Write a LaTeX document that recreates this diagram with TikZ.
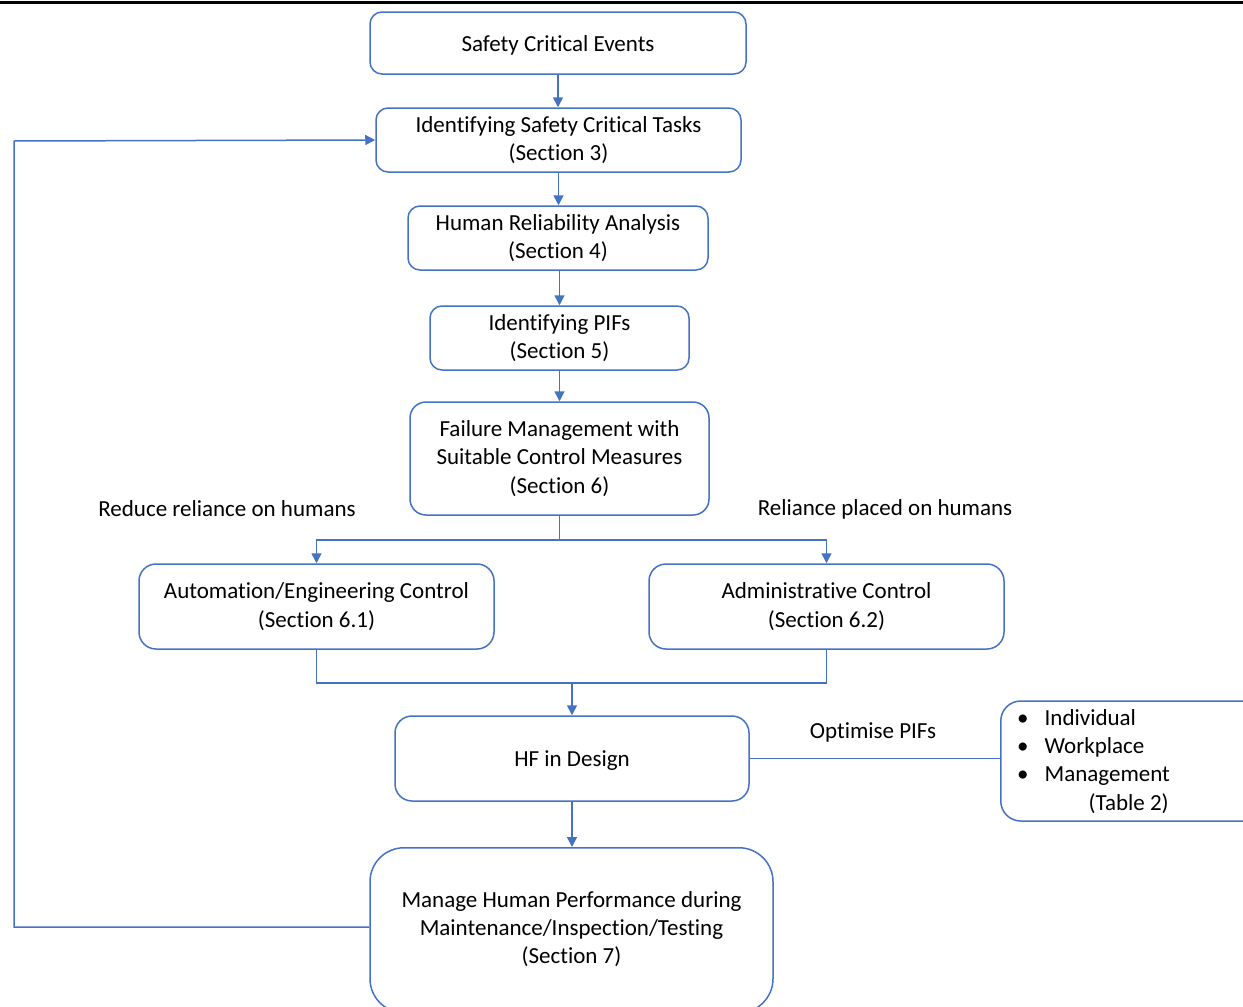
\documentclass[tikz,border=0pt]{standalone}
\usepackage{fontspec}
\setmainfont{Carlito}[Ligatures=NoCommon]
\usetikzlibrary{arrows.meta}
\definecolor{obl}{HTML}{4472C4}
\tikzset{
  x=1pt,y=-1pt,
  box/.style={draw=obl, line width=1.5pt, rounded corners=12pt, align=center, inner sep=0pt,
    font=\fontsize{23}{28.3}\selectfont},
  txt/.style={align=center, inner sep=0pt, font=\fontsize{23}{28.3}\selectfont},
  conn/.style={draw=obl, line width=1.5pt},
  arr/.style={conn, -{Triangle[length=10pt,width=10pt]}},
  oneline/.style={text height=21pt, text depth=5pt},
}
\begin{document}
\begin{tikzpicture}
\useasboundingbox (0,0) rectangle (1243,1007);
\draw[line width=3pt] (0,2) -- (1243,2);

\node[box, minimum width=376, minimum height=62, oneline] (b1) at (558,43) {Safety Critical Events};
\node[box, minimum width=365, minimum height=64] (b2) at (558.5,140) {Identifying Safety Critical Tasks\\(Section 3)};
\node[box, minimum width=300, minimum height=64] (b3) at (558,238) {Human Reliability Analysis\\(Section 4)};
\node[box, minimum width=259, minimum height=64] (b4) at (559.5,338) {Identifying PIFs\\(Section 5)};
\node[box, minimum width=299, minimum height=113, rounded corners=16pt] (b5) at (559.5,458.5) {Failure Management with\\Suitable Control Measures\\(Section 6)};
\node[box, minimum width=355, minimum height=85, rounded corners=17pt] (b6) at (316.5,606.5) {Automation/Engineering Control\\(Section 6.1)};
\node[box, minimum width=355, minimum height=85, rounded corners=17pt] (b7) at (826.5,606.5) {Administrative Control\\(Section 6.2)};
\node[box, minimum width=354, minimum height=85, rounded corners=17pt, oneline] (b8) at (572,758.5) {HF in Design};
\node[box, minimum width=403, minimum height=165, rounded corners=34pt, anchor=north] (b9) at (571.5,847) {};
\node[txt] (b9t) at (571.5,929) {Manage Human Performance during\\Maintenance/Inspection/Testing\\(Section 7)};
\coordinate (b9w) at (b9.west |- 0,927);
\node[box, minimum width=290, minimum height=120, rounded corners=20pt, anchor=west] (b10) at (1000,761) {};
\node[txt, anchor=west] (b10t) at (1017,762) {\begin{tabular}{@{}l@{\hspace{16pt}}l@{}}\textbullet & Individual\\ \textbullet & Workplace\\ \textbullet & Management\\ & \hspace{44pt}(Table 2)\end{tabular}};

\node[txt] (lred) at (227,509) {Reduce reliance on humans};
\node[txt] (lrel) at (885,509) {Reliance placed on humans};
\node[txt] (lopt) at (873,732) {Optimise PIFs};

\draw[arr] (b1.south) -- (b1.south |- b2.north);
\draw[arr] (b2.south) -- (b2.south |- b3.north);
\draw[arr] (b4.north |- b3.south) -- (b4.north);
\draw[arr] (b4.south) -- (b4.south |- b5.north);
\coordinate (sp) at (559.5,540);
\draw[conn] (b5.south) -- (sp);
\draw[arr] (sp) -| (b6.north);
\draw[arr] (sp) -| (b7.north);
\coordinate (mg) at (572,683);
\draw[conn] (b6.south) |- (mg);
\draw[conn] (b7.south) |- (mg);
\draw[arr] (mg) -- (b8.north);
\draw[arr] (b8.south) -- (b8.south |- b9.north);
\draw[conn] (b8.east) -- (b8.east -| b10.west);
\coordinate (lp) at (14,141);
\draw[arr] (b9w) -| (lp) -- (b2.west);
\end{tikzpicture}
\end{document}
